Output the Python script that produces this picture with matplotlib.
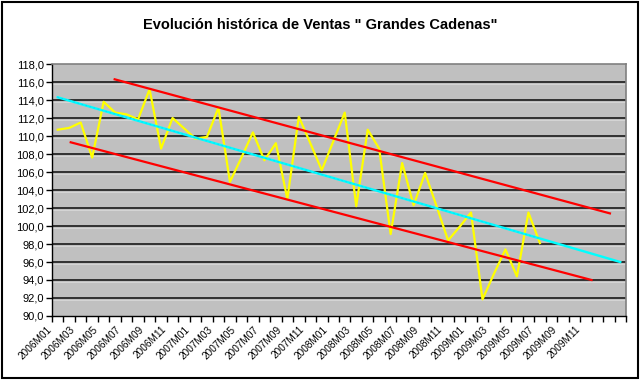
import matplotlib.pyplot as plt
import numpy as np
from matplotlib.patches import Rectangle
from matplotlib.ticker import FixedLocator, FuncFormatter
import matplotlib.transforms as mtransforms

plt.rcParams['font.family'] = ['Liberation Sans', 'DejaVu Sans']

# Monthly sales index, 2006M01 .. 2009M07
ventas = [110.7, 110.9, 111.5, 107.6, 113.8, 112.6, 112.4, 111.85, 115.2, 108.6,
          112.0, 110.85, 109.7, 109.9, 113.15, 104.9, 107.6, 110.4, 107.3, 109.2,
          103.0, 112.15, 109.2, 106.2, 109.4, 112.6, 102.2, 110.7, 108.6, 99.1,
          107.0, 102.3, 105.9, 102.2, 98.4, 99.9, 101.5, 91.85, 94.7, 97.4,
          94.4, 101.5, 98.1]

# 50 categories on the axis; only 2006M01..2009M12 carry a name
years = [2006, 2007, 2008, 2009]
n_cat = 50
labels = [f"{y}M{m:02d}" for y in years for m in range(1, 13)]
labels = labels + [""] * (n_cat - len(labels))

# trend line (cyan) from first to last category
trend_x = [0, n_cat - 1]
trend_y = [114.3, 96.0]

# channel lines drawn by hand (red)
upper_x = [4.96, 48.1]
upper_y = [116.3, 101.4]
lower_x = [1.13, 46.5]
lower_y = [109.3, 94.0]

fig = plt.figure(figsize=(6.4, 3.8), dpi=100)
ax = fig.add_axes([52 / 640, 64 / 380, 574 / 640, 252 / 380])
ax.set_facecolor('#C0C0C0')

# outer chart border
fig.patches.append(Rectangle((2 / 640, 2 / 380), 636 / 640, 376 / 380,
                             transform=fig.transFigure, fill=False,
                             edgecolor='black', linewidth=1.5))

ax.set_xlim(-0.5, n_cat - 0.5)
ax.set_ylim(90, 118)

# horizontal gridlines
for v in np.arange(92, 118, 2):
    ax.axhline(v, color='#262626', linewidth=1.3, zorder=1)
    ax.axhline(v - 0.2, color='#D8D8D8', linewidth=0.6, zorder=1)

x = np.arange(len(ventas))
ax.plot(x, ventas, color='#FFFF00', linewidth=1.6, zorder=3)
ax.plot(trend_x, trend_y, color='#00FFFF', linewidth=1.7, zorder=4)
ax.plot([0, len(ventas) - 1],
        [trend_y[0], trend_y[0] + (trend_y[1] - trend_y[0]) * (len(ventas) - 1) / (n_cat - 1)],
        color='#4040FF', linewidth=0.6, linestyle=(0, (1, 4)), alpha=0.5, zorder=5)
ax.plot(upper_x, upper_y, color='#FF0000', linewidth=1.6, zorder=4)
ax.plot(lower_x, lower_y, color='#FF0000', linewidth=1.6, zorder=4)

# spines
for s in ['top', 'right']:
    ax.spines[s].set_color('#808080')
    ax.spines[s].set_linewidth(1.2)
for s in ['left', 'bottom']:
    ax.spines[s].set_color('black')
    ax.spines[s].set_linewidth(1.0)

# y axis
ax.set_yticks(np.arange(90, 118.1, 2))
ax.yaxis.set_major_formatter(FuncFormatter(lambda v, p: f"{v:.1f}".replace('.', ',')))
ax.tick_params(axis='y', direction='out', length=4, width=1, labelsize=8, pad=2)

# x axis: tick marks between categories, labels every 2 categories
ax.xaxis.set_minor_locator(FixedLocator(np.arange(-0.5, n_cat, 1)))
ax.set_xticks(np.arange(0, n_cat, 2))
ax.set_xticklabels(labels[::2])
ax.tick_params(axis='x', which='major', length=0, labelsize=7.2, pad=6)
ax.tick_params(axis='x', which='minor', direction='out', length=4, width=1)
offset = mtransforms.ScaledTranslation(-4 / 100, 0, fig.dpi_scale_trans)
for lab in ax.get_xticklabels():
    lab.set_rotation(45)
    lab.set_ha('right')
    lab.set_va('top')
    lab.set_transform(lab.get_transform() + offset)

fig.text(0.5, 1 - 25 / 380, 'Evolución histórica de Ventas " Grandes Cadenas"',
         ha='center', va='center', fontsize=10.5, fontweight='bold')

fig.savefig('out.png', dpi=100)
